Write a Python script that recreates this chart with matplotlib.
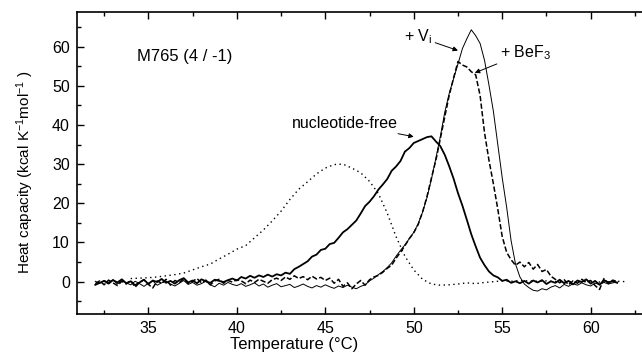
import numpy as np
import matplotlib
matplotlib.use("Agg")
import matplotlib.pyplot as plt
from matplotlib.ticker import MultipleLocator

plt.rcParams["font.family"] = ["Liberation Sans", "DejaVu Sans"]
plt.rcParams["mathtext.fontset"] = "custom"
plt.rcParams["mathtext.rm"] = "Liberation Sans"
plt.rcParams["mathtext.it"] = "Liberation Sans"

# === DATA ===
# common temperature grid of the three noisy scans (degC)
temp_scan = np.arange(32.0, 61.51, 0.25)

# nucleotide-free (thick solid)
cp_free = [
    -0.8, -0.3, 0.2, -0.5, 0.4, -0.2, 0.6, -0.4, 0.1, -0.9, -0.2, 0.5, -0.6,
    0.3, -0.1, 0.7, -0.3, 0.2, -0.5, 0.4, 0.9, -0.2, 0.3, -0.4, 0.6, 0.1,
    -0.3, 0.5, 0.2, -0.1, 0.4, 0.8, 0.3,
    1.2, 0.8, 1.5, 1.0, 1.6, 1.2, 1.8, 1.3, 1.9, 1.6, 2.3, 2.0, 3.2, 3.8, 4.5, 5.2,
    6.4, 6.9, 8.1, 8.4, 9.6, 9.9, 11.2, 12.6, 13.4, 14.5, 15.6, 17.4, 19.3, 20.4,
    21.8, 23.5,
    24.8, 26.2, 28.3, 29.4, 30.8, 33.2, 34.1, 35.4, 35.9, 36.4, 36.9, 37.1,
    35.8, 34.6, 32.4, 29.5,
    26.3, 22.6, 19.4, 15.8, 12.1, 9.0, 6.1, 4.2, 2.6, 1.6, 1.1, 0.2, 0.5, -0.3,
    0.1, -0.4,
    0.2, -0.5, 0.3, -0.2, 0.4, -0.6, 0.1, -0.3, 0.5, -0.4, 0.2, -0.7, 0.3, -0.1,
    0.6, -0.5, 0.2, -0.8, 0.4, -0.2, 0.1, -0.3,
]

# + Vi (thin solid)
cp_vi = [
    0.1, -0.4, 0.3, -0.2, 0.5, -0.6, 0.2, -0.3, -0.8, 0.1, -0.5, -1.2, -0.4,
    0.2, -0.9, -0.3, 0.1, -0.6, -1.1, -0.4, 0.3, -0.7, -0.2, -0.9, -0.5, 0.1,
    -0.8, -1.3, -0.4, -0.9, -0.2, -0.7, -1.0,
    -0.5, -1.2, -0.8, -0.3, -1.1, -0.6, -1.4, -0.9, -0.5, -1.3, -1.0, -0.7,
    -1.5, -1.1, -0.6, -1.2,
    -1.6, -1.0, -1.4, -0.8, -1.3, -1.7, -1.1, -1.5, -0.9, -1.4, -1.8, -1.2,
    -0.8, 0.2, 0.9, 1.8,
    2.6, 3.6, 4.8, 6.5, 8.0, 9.4, 11.0, 12.6, 14.8, 17.8, 21.5, 26.2, 31.5,
    37.0, 43.2, 48.0,
    51.8, 55.6, 59.5, 62.0, 64.3, 62.8, 60.8, 56.5, 50.2, 43.5, 35.0, 26.5,
    19.0, 10.5, 4.5, 1.2,
    -0.6, -1.5, -2.2, -2.4, -1.8, -2.1, -1.4, -1.0, -1.6, -0.7, -1.2, -0.5,
    -0.9, -0.3, -0.8, -1.1, -0.4, -0.7, -0.2, -0.6, -0.3, -0.1,
]

# + BeF3 (dashed)
cp_bef = [
    -0.5, 0.2, -0.8, 0.4, -0.3, -1.0, 0.1, -0.6, 0.3, -1.4, -0.2, 0.5, -0.7,
    -1.6, 0.2, -0.4, 0.6, -0.9, 0.3, -0.2, 0.7, -0.5, 0.1, 0.8, -0.3, 0.4,
    -0.8, 0.2, 0.6, -0.4, 0.3, -0.1, 0.5,
    0.2, -0.5, 0.4, -0.2, 0.6, 0.1, -0.4, 0.5, 0.9, 0.3, 1.2, 0.6, 1.5, 0.8,
    1.3, 0.5,
    1.4, 0.7, 1.1, 0.3, 0.9, -0.4, 0.6, -1.2, -0.3, -1.8, -0.6, 0.3, -0.9,
    0.5, 1.2, 1.6,
    2.4, 3.4, 4.2, 6.0, 7.5, 9.2, 11.0, 12.5, 14.6, 17.8, 21.8, 26.5, 31.0,
    36.5, 42.0, 47.5,
    52.0, 56.2, 55.3, 54.8, 53.6, 52.8, 47.5, 38.0, 31.0, 25.0, 18.5, 11.5,
    7.5, 5.6, 4.2, 5.0,
    3.8, 4.9, 3.2, 4.4, 2.6, 3.1, 1.4, 0.6, -0.3, 0.5, -0.8, 0.2, -0.4, 0.6,
    -0.2, 0.3, -1.0, -2.0, 0.8, -0.5, 0.4, 0.0,
]

# unlabelled dotted scan (peak near 46 degC)
temp_dot = np.arange(34.0, 62.01, 0.5)
cp_dot = [
    0.8, 0.9, 1.0, 1.2, 1.5, 1.8, 2.2, 3.0, 3.8, 4.5, 5.8, 7.0, 8.3, 9.2,
    11.2, 13.2, 15.5, 18.0, 21.0, 23.6, 25.5, 27.5, 29.0, 29.9, 30.0, 29.0,
    27.8, 25.6, 22.5, 17.5, 11.5, 6.5, 3.0, 0.6, -0.6, -0.9, -0.8, -0.6,
    -0.3, -0.5, -0.2, 0.0, 0.2, 0.1, 0.3, 0.2, 0.1, 0.2, 0.0, 0.1, -0.1,
    0.0, 0.1, -0.1, 0.0, 0.1, 0.0,
]

# === PLOT ===
fig = plt.figure(figsize=(6.42, 3.56), dpi=100)
ax = fig.add_axes([0.1195, 0.118, 0.8805, 0.849])

ax.plot(temp_dot, cp_dot, color="black", linestyle=(0, (1, 2.5)), linewidth=1.0)
ax.plot(temp_scan, cp_vi, color="black", linewidth=0.7)
ax.plot(temp_scan, cp_bef, color="black", linestyle=(0, (3.5, 1.5)), linewidth=1.1)
ax.plot(temp_scan, cp_free, color="black", linewidth=1.3)

ax.set_xlim(30.95, 62.9)
ax.set_ylim(-8.25, 68.9)

ax.xaxis.set_major_locator(MultipleLocator(5))
ax.xaxis.set_minor_locator(MultipleLocator(2.5))
ax.yaxis.set_major_locator(MultipleLocator(10))
ax.yaxis.set_minor_locator(MultipleLocator(5))
ax.set_yticks(range(0, 61, 10))
ax.tick_params(which="both", direction="in", top=True, right=False,
               labelsize=11.5, pad=5, width=1.0)
ax.tick_params(which="major", length=5)
ax.tick_params(which="minor", length=3)

for side in ["left", "bottom", "top"]:
    ax.spines[side].set_linewidth(1.2)
ax.spines["right"].set_visible(False)

# Labels
ax.set_xlabel("Temperature (°C)", fontsize=12)
ax.xaxis.set_label_coords(0.384, -0.075)
ax.set_ylabel("Heat capacity (kcal K$^{-1}$mol$^{-1}$ )", fontsize=11)
ax.yaxis.set_label_coords(-0.072, 0.47)

# Annotations
ax.text(34.35, 57.5, "M765 (4 / -1)", fontsize=12, va="center", ha="left")

arrow = dict(arrowstyle="-|>", color="black", lw=0.7,
             mutation_scale=7, shrinkA=0, shrinkB=0)
ax.annotate("nucleotide-free", xy=(50.0, 37.0), xytext=(49.1, 40.4),
            fontsize=11.5, ha="right", va="center", arrowprops=arrow)
ax.annotate("+ V$_\\mathregular{i}$", xy=(52.5, 59.0), xytext=(49.45, 62.5),
            fontsize=11.5, ha="left", va="center", arrowprops=arrow)
ax.annotate("+ BeF$_\\mathregular{3}$", xy=(53.45, 53.3), xytext=(54.85, 58.5),
            fontsize=11.5, ha="left", va="center", arrowprops=arrow)

fig.savefig("out.png", dpi=100)
plt.close(fig)
